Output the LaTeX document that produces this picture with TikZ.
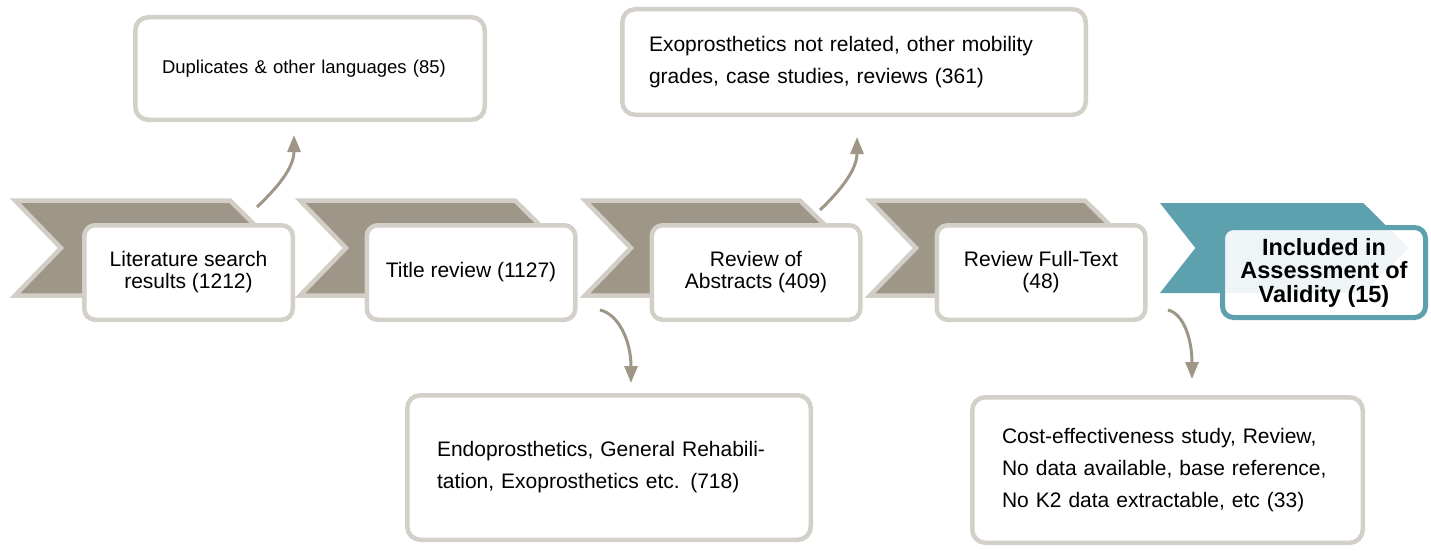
\documentclass[tikz,border=0pt]{standalone}
\usepackage{fontspec}
\setmainfont{Liberation Sans}
\usetikzlibrary{arrows.meta}
\definecolor{chevfill}{HTML}{9E9686}
\definecolor{chevline}{HTML}{D2CEC7}
\definecolor{boxline}{HTML}{D3CFC9}
\definecolor{teal}{HTML}{5EA1AE}
\definecolor{arrcol}{HTML}{9E9686}
\tikzset{
  chev/.style={fill=chevfill, draw=chevline, line width=4.5pt, line join=miter},
  tchev/.style={fill=teal, draw=teal, line width=1pt, line join=miter},
  mainbox/.style={draw=boxline, fill=white, line width=4.5pt, rounded corners=11pt,
    minimum width=208.5pt, minimum height=94.5pt, align=center, inner sep=0pt,
    font=\fontsize{21}{22}\selectfont},
  sidebox/.style={draw=boxline, fill=white, line width=4.5pt, rounded corners=13pt,
    align=left, inner ysep=0pt, font=\fontsize{21}{32}\selectfont},
  arr/.style={draw=arrcol, line width=3pt, -{Triangle[length=17pt,width=13pt]}}
}
\begin{document}
\begin{tikzpicture}[x=1pt,y=-1pt]
\useasboundingbox (0,0) rectangle (1431,551);
% chevrons
\foreach \L in {15,300,585,870}{
  \path[chev] (\L,200.5) -- (\L+215,200.5) -- (\L+263,248) -- (\L+215,295.5) -- (\L,295.5) -- (\L+46,248) -- cycle;
}
\path[tchev] (1161,203.5) -- (1363,203.5) -- (1408,248) -- (1363,292.5) -- (1161,292.5) -- (1196,248) -- cycle;
% main boxes
\node[mainbox] (b1) at (188.5,272.5) {Literature search\\results (1212)};
\node[mainbox] (b2) at (471,272.5) {Title review (1127)};
\node[mainbox] (b3) at (756,272.5) {Review of\\Abstracts (409)};
\node[mainbox] (b4) at (1041,272.5) {Review Full-Text\\(48)};
\node[mainbox, draw=teal, fill=white, fill opacity=0.9, text opacity=1, line width=5pt,
  minimum width=203pt, minimum height=90pt, font=\fontsize{23.5}{23.5}\selectfont\bfseries]
  (b5) at (1324,272.5) {Included in\\Assessment of\\Validity (15)};
% side boxes
\node[sidebox, inner xsep=26.75pt, text width=296pt, minimum height=102.5pt,
  font=\fontsize{18.5}{22}\selectfont] (sa) at (310,68.5) {Duplicates \& other languages (85)};
\node[sidebox, inner xsep=26.75pt, text width=410pt, minimum height=105.5pt]
  (sb) at (854,62) {Exoprosthetics not related, other mobility\\grades, case studies, reviews (361)};
\node[sidebox, inner xsep=29.75pt, text width=344pt, minimum height=144.5pt]
  (sc) at (609,467.5) {Endoprosthetics, General Rehabili-\\tation, Exoprosthetics etc. (718)};
\node[sidebox, inner xsep=29.75pt, text width=331pt, minimum height=145.5pt]
  (sd) at (1167.5,470) {Cost-effectiveness study, Review,\\No data available, base reference,\\No K2 data extractable, etc (33)};
% arrows
\coordinate (a1s) at (257,207);
\coordinate (a1e) at (294,135);
\coordinate (a2s) at (820,210);
\coordinate (a2e) at (857,137);
\coordinate (a3s) at (600,310);
\coordinate (a3e) at (631,383);
\coordinate (a4s) at (1168,310);
\coordinate (a4e) at (1192,379);
\draw[arr] (a1s) .. controls (277,188) and (294,168) .. (a1e);
\draw[arr] (a2s) .. controls (840,191) and (857,170) .. (a2e);
\draw[arr] (a3s) .. controls (618,314) and (631,340) .. (a3e);
\draw[arr] (a4s) .. controls (1184,314) and (1192,340) .. (a4e);
\end{tikzpicture}
\end{document}
